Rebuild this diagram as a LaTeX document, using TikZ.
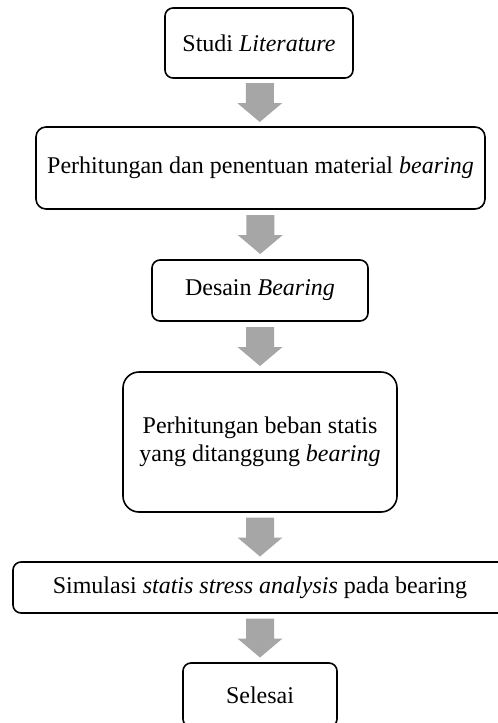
\documentclass[tikz,border=0pt]{standalone}
\usepackage{fontspec}
\setmainfont{Liberation Serif}
\usetikzlibrary{calc}
\definecolor{arrowgray}{HTML}{A6A6A6}
\tikzset{
  flowbox/.style={draw=black, line width=1.6pt, rounded corners=8pt, inner sep=0pt,
    align=center, font=\fontsize{24}{27.5}\selectfont, text=black},
  arrowfill/.style={fill=arrowgray, draw=none}
}
\newcommand\blockarrow[2]{%
  \fill[arrowfill] ($(#1.south)!0.5!(#2.north)$) ++(-14,-19.5) -- ++(28,0) -- ++(0,20)
    -- ++(8.5,0) -- ++(-22.5,19) -- ++(-22.5,-19) -- ++(8.5,0) -- cycle;}
\begin{document}
\begin{tikzpicture}[x=1pt,y=-1pt]
\clip (0,0) rectangle (498,723);
\fill[white] (0,0) rectangle (498,723);
\node[flowbox, minimum width=188pt, minimum height=70pt] (b1) at (259,43) {Studi \textit{Literature}};
\node[flowbox, rounded corners=10pt, minimum width=449pt, minimum height=82pt] (b2) at (260.5,168) {Perhitungan dan penentuan material \textit{bearing}};
\node[flowbox, minimum width=216pt, minimum height=61pt] (b3) at (260,290.5) {Desain \textit{Bearing}};
\node[flowbox, rounded corners=16pt, minimum width=274pt, minimum height=140pt] (b4) at (260,442) {Perhitungan beban statis\\yang ditanggung \textit{bearing}};
\node[flowbox, minimum width=494pt, minimum height=51pt] (b5) at (260,587.5) {Simulasi \textit{statis stress analysis} pada bearing};
\node[flowbox, minimum width=154pt, minimum height=64pt] (b6) at (260,695) {Selesai};
\blockarrow{b1}{b2}
\blockarrow{b2}{b3}
\blockarrow{b3}{b4}
\blockarrow{b4}{b5}
\blockarrow{b5}{b6}
\end{tikzpicture}
\end{document}
